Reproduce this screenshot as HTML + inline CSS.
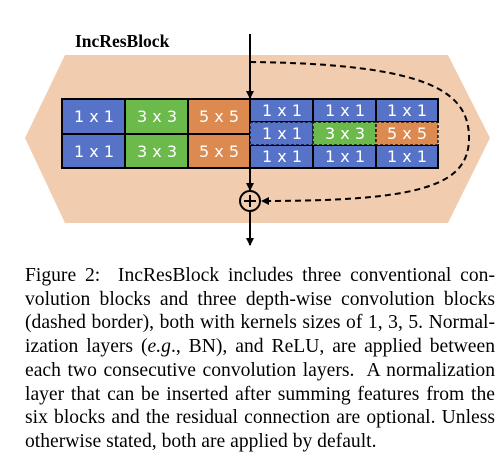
<!DOCTYPE html>
<html><head><style>
body{margin:0;background:#fff;width:500px;height:468px;overflow:hidden;position:relative}
.cap{position:absolute;left:25px;width:470px;font-family:"Liberation Serif",serif;font-size:19.6px;line-height:23.7px;white-space:nowrap}
.j{text-align:justify;text-align-last:justify;white-space:normal}
</style></head><body>
<svg width="500" height="250" style="position:absolute;left:0;top:0" font-family="DejaVu Sans, sans-serif">
<defs><marker id="a" markerWidth="8" markerHeight="8" refX="7" refY="4" orient="auto" markerUnits="userSpaceOnUse"><path d="M0,0 L8,4 L0,8z" fill="#000"/></marker></defs>
<polygon points="65,55 448,55 490,138 448,223 65,223 25,138" fill="#f2ccaf"/>
<text x="75" y="47" font-family="Liberation Serif, serif" font-weight="bold" font-size="17.5">IncResBlock</text>
<g stroke="#000" stroke-width="2">
<rect x="62" y="99" width="63" height="35" fill="#5773c8"/>
<rect x="125" y="99" width="63" height="35" fill="#6bba4b"/>
<rect x="188" y="99" width="62" height="35" fill="#dc8a4f"/>
<rect x="62" y="134" width="63" height="34" fill="#5773c8"/>
<rect x="125" y="134" width="63" height="34" fill="#6bba4b"/>
<rect x="188" y="134" width="62" height="34" fill="#dc8a4f"/>
<rect x="250" y="99" width="63" height="23" fill="#5773c8"/>
<rect x="313" y="99" width="63" height="23" fill="#5773c8"/>
<rect x="376" y="99" width="62" height="23" fill="#5773c8"/>
<rect x="250" y="145" width="63" height="23" fill="#5773c8"/>
<rect x="313" y="145" width="63" height="23" fill="#5773c8"/>
<rect x="376" y="145" width="62" height="23" fill="#5773c8"/>
</g>
<g stroke="#000" stroke-width="1.3" stroke-dasharray="3,2">
<rect x="250" y="122" width="63" height="23" fill="#5773c8"/>
<rect x="313" y="122" width="63" height="23" fill="#6bba4b"/>
<rect x="376" y="122" width="62" height="23" fill="#dc8a4f"/>
</g>
<g fill="#fff" font-size="16" text-anchor="middle">
<text x="94" y="122">1 x 1</text><text x="157" y="122">3 x 3</text><text x="219" y="122">5 x 5</text>
<text x="94" y="157">1 x 1</text><text x="157" y="157">3 x 3</text><text x="219" y="157">5 x 5</text>
<text x="282" y="116">1 x 1</text><text x="345" y="116">1 x 1</text><text x="407" y="116">1 x 1</text>
<text x="282" y="139">1 x 1</text><text x="345" y="139">3 x 3</text><text x="407" y="139">5 x 5</text>
<text x="282" y="162">1 x 1</text><text x="345" y="162">1 x 1</text><text x="407" y="162">1 x 1</text>
</g>
<g stroke="#000" stroke-width="2" fill="none">
<line x1="250" y1="34" x2="250" y2="98" marker-end="url(#a)"/>
<line x1="250" y1="168" x2="250" y2="190" marker-end="url(#a)"/>
<line x1="250" y1="211" x2="250" y2="245" marker-end="url(#a)"/>
<circle cx="250" cy="201" r="10" fill="none"/>
<line x1="244" y1="201" x2="256" y2="201"/><line x1="250" y1="195" x2="250" y2="207"/>
<path d="M250,62 C430,64 469,92 469,138 C469,186 420,201 262,201" stroke-dasharray="6,4" marker-end="url(#a)"/>
</g>
</svg>
<div class="cap j" style="top:264px">Figure 2:&nbsp; IncResBlock includes three conventional con-</div>
<div class="cap j" style="top:287.7px">volution blocks and three depth-wise convolution blocks</div>
<div class="cap j" style="top:311.4px">(dashed border), both with kernels sizes of 1, 3, 5. Normal-</div>
<div class="cap j" style="top:335.1px">ization layers (<i>e.g</i>., BN), and ReLU, are applied between</div>
<div class="cap j" style="top:358.8px">each two consecutive convolution layers.&nbsp; A normalization</div>
<div class="cap j" style="top:382.5px">layer that can be inserted after summing features from the</div>
<div class="cap j" style="top:406.2px">six blocks and the residual connection are optional. Unless</div>
<div class="cap" style="top:429.9px">otherwise stated, both are applied by default.</div>
</body></html>
